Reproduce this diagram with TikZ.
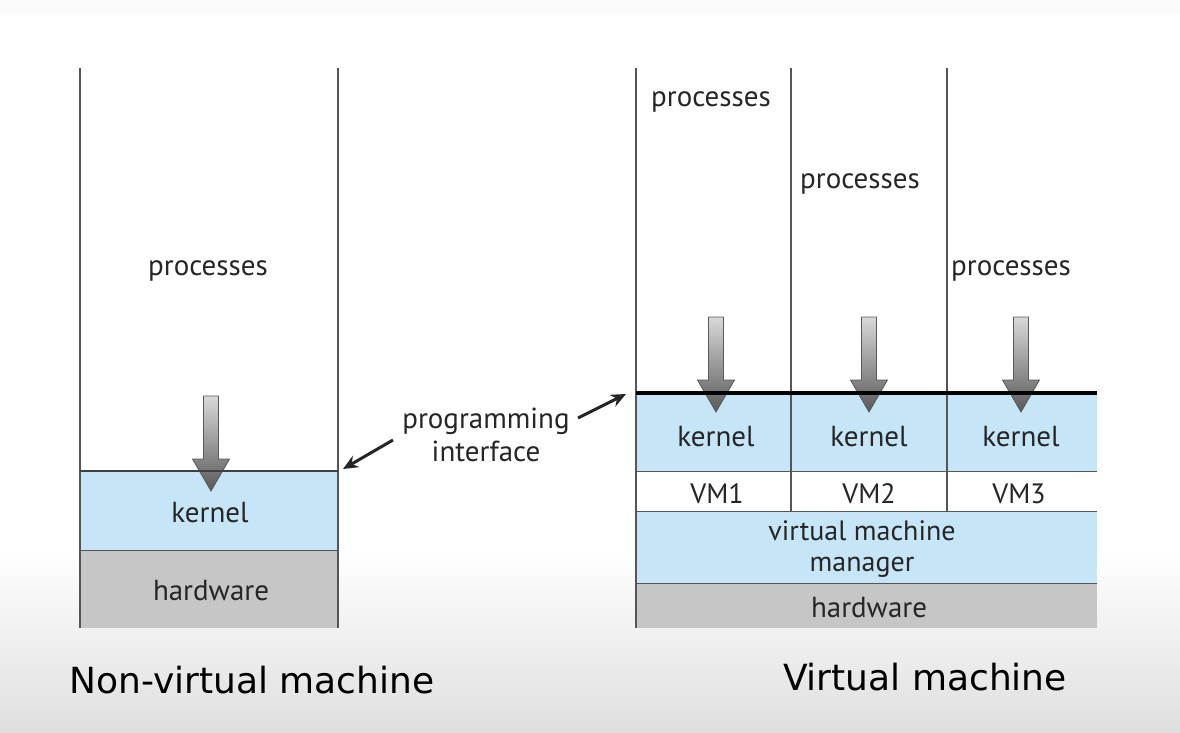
\documentclass[tikz,border=0pt]{standalone}
\usepackage{fontspec}
\setmainfont{PT Sans}
\newfontfamily\capfont{DejaVu Sans}
\usetikzlibrary{arrows.meta,calc}
\definecolor{kblue}{HTML}{C6E6F7}
\definecolor{hwgray}{HTML}{C6C6C6}
\definecolor{txt}{HTML}{262626}
\definecolor{linegray}{HTML}{555555}
\tikzset{
  lbl/.style={font=\fontsize{29}{31}\selectfont, text=txt, inner sep=0pt, align=center},
  captext/.style={font=\capfont\fontsize{36}{38}\selectfont, text=black, inner sep=0pt},
  vline/.style={draw=linegray, line width=1.3pt},
  layer/.style={draw=linegray, line width=1pt},
  pointer/.style={draw=black!85, line width=3pt, -{Stealth[length=15pt,width=13pt]}},
}
\newcommand{\downarr}[2]{% x, ytop
  \shade[top color=black!15, bottom color=black!65, draw=black!65, line width=0.8pt]
    (#1-7.5,#2) -- (#1+7.5,#2) -- (#1+7.5,#2+63) -- (#1+18.5,#2+63) -- (#1,#2+95)
    -- (#1-18.5,#2+63) -- (#1-7.5,#2+63) -- cycle;
}
\begin{document}
\begin{tikzpicture}[x=1pt,y=-1pt]
\useasboundingbox (0,0) rectangle (1180,732);
% background
\fill[white] (0,0) rectangle (1180,732);
\fill[gray!3] (0,0) rectangle (1180,14);
\shade[top color=white, bottom color=gray!25] (0,550) rectangle (1180,732);

% ---------- Non-virtual machine ----------
\fill[kblue] (80,471) rectangle (338,550);
\fill[hwgray] (80,550) rectangle (338,628);
\draw[layer] (80,550) -- (338,550);
\draw[vline] (80,68) -- (80,628);
\draw[vline] (338,68) -- (338,628);
\downarr{211}{396}
\draw[draw=black!75, line width=1.8pt] (80,471) -- (338,471);
\node[lbl] (p0) at (208,271) {processes};
\node[lbl] (k0) at (210,513) {kernel};
\node[lbl] (h0) at (211,591) {hardware};

% ---------- Virtual machine ----------
\fill[kblue] (636,393) rectangle (1097,471);
\fill[white] (636,471) rectangle (1097,511);
\fill[kblue] (636,511) rectangle (1097,583);
\fill[hwgray] (636,583) rectangle (1097,628);
\draw[layer] (636,471) -- (1097,471);
\draw[layer] (636,511) -- (1097,511);
\draw[layer] (636,583) -- (1097,583);
\draw[vline] (636,68) -- (636,628);
\draw[vline] (791,68) -- (791,511);
\draw[vline] (947,68) -- (947,511);
\downarr{716}{317}
\downarr{869}{317}
\downarr{1021}{317}
\draw[black, line width=3.5pt] (636,393) -- (1097,393);
\node[lbl] (p1) at (711,102) {processes};
\node[lbl] (p2) at (860,184) {processes};
\node[lbl] (p3) at (1011,271) {processes};
\node[lbl] (k1) at (716,437) {kernel};
\node[lbl] (k2) at (869,437) {kernel};
\node[lbl] (k3) at (1021,437) {kernel};
\node[lbl, font=\fontsize{28}{30}\selectfont] (v1) at (717,494) {VM1};
\node[lbl, font=\fontsize{28}{30}\selectfont] (v2) at (869,494) {VM2};
\node[lbl, font=\fontsize{28}{30}\selectfont] (v3) at (1019,494) {VM3};
\node[lbl, font=\fontsize{28}{31}\selectfont] (vmm) at (862,549) {virtual machine\\manager};
\node[lbl, font=\fontsize{29}{31}\selectfont] (h1) at (869,608) {hardware};

% ---------- programming interface ----------
\node[lbl, font=\fontsize{29}{33}\selectfont] (pi) at (486,435) {programming\\interface};
\coordinate (pil) at (393,440);
\coordinate (pir) at (578,418);
\coordinate (tl) at (343,469);
\coordinate (tr) at (626,394);
\draw[pointer] (pil) -- (tl);
\draw[pointer] (pir) -- (tr);

% ---------- captions ----------
\node[captext] (c0) at (252,680) {Non-virtual machine};
\node[captext] (c1) at (925,677) {Virtual machine};
\end{tikzpicture}
\end{document}
